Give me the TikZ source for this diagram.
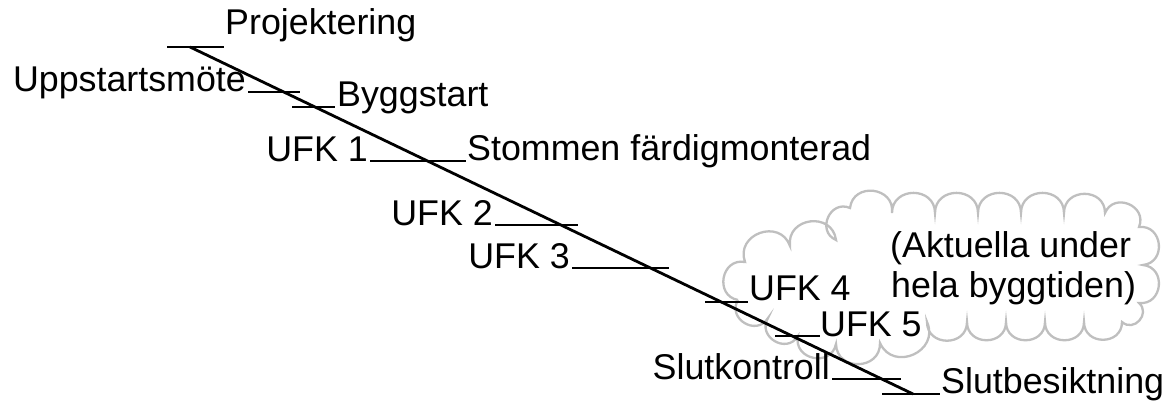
\documentclass[tikz,border=0pt]{standalone}
\usepackage{fontspec}
\setmainfont{Liberation Sans}
\begin{document}
\begin{tikzpicture}[x=1pt,y=-1pt,
  lbl/.style={inner sep=0pt,font=\fontsize{35.8}{40}\selectfont},
  tick/.style={line width=2.8pt,black},
  axisline/.style={line width=2.8pt,black},
  cloudline/.style={line width=2.3pt,black!25},
  bump/.style={bend left=90,looseness=1.6}]
\useasboundingbox (0,0) rectangle (1168,403);
% cloud
\foreach \n/\p in {0/{738,300},1/{745,262},2/{790,246},3/{836,240},4/{850,208},5/{892,213},6/{935,213},7/{978,213},8/{1021,213},9/{1064,213},10/{1105,213},11/{1139,227},12/{1143,265},13/{1139,303},14/{1122,322},15/{1084,322},16/{1045,322},17/{1006,322},18/{967,322},19/{927,322},20/{880,343},21/{836,344},22/{798,336},23/{768,318}}
  \coordinate (c\n) at (\p);
\draw[cloudline] (c0) to[bump] (c1) to[bump] (c2) to[bump] (c3) to[bump] (c4)
  to[bump] (c5) to[bump] (c6) to[bump] (c7) to[bump] (c8) to[bump] (c9)
  to[bump] (c10) to[bump] (c11) to[bump] (c12) to[bump] (c13) to[bump] (c14)
  to[bump] (c15) to[bump] (c16) to[bump] (c17) to[bump] (c18) to[bump] (c19)
  to[bump] (c20) to[bump] (c21) to[bump] (c22) to[bump] (c23) to[bump] (c0);
\node[lbl,anchor=base west] (cl1) at (890,258) {(Aktuella under};
\node[lbl,anchor=base west] (cl2) at (891,298) {hela byggtiden)};
% main diagonal
\coordinate (d0) at (190,47);
\coordinate (d1) at (913,394);
\draw[axisline] (d0) -- (d1);
% ticks
\coordinate (a1) at (167,47);  \coordinate (b1) at (224,47);
\coordinate (a2) at (248,92);  \coordinate (b2) at (300,92);
\coordinate (a3) at (292,107); \coordinate (b3) at (335,107);
\coordinate (a4) at (370,161); \coordinate (b4) at (466,161);
\coordinate (a5) at (495,225); \coordinate (b5) at (578,225);
\coordinate (a6) at (572,268); \coordinate (b6) at (669,268);
\coordinate (a7) at (705,302); \coordinate (b7) at (748,302);
\coordinate (a8) at (775,336); \coordinate (b8) at (820,336);
\coordinate (a9) at (832,379); \coordinate (b9) at (901,379);
\coordinate (a10) at (882,394); \coordinate (b10) at (940,394);
\foreach \i in {1,...,10} \draw[tick] (a\i) -- (b\i);
% labels
\node[lbl,anchor=base west] (proj) at (225,35) {Projektering};
\node[lbl,anchor=base east] (upp) at (246,92) {Uppstartsmöte};
\node[lbl,anchor=base west] (bygg) at (337,107) {Byggstart};
\node[lbl,anchor=base east] (ufk1) at (368,162) {UFK 1};
\node[lbl,anchor=base west] (stom) at (467,161) {Stommen färdigmonterad};
\node[lbl,anchor=base east] (ufk2) at (493,226) {UFK 2};
\node[lbl,anchor=base east] (ufk3) at (570,269) {UFK 3};
\node[lbl,anchor=base west] (ufk4) at (749,301) {UFK 4};
\node[lbl,anchor=base west] (ufk5) at (820,337) {UFK 5};
\node[lbl,anchor=base east] (slutk) at (830,380) {Slutkontroll};
\node[lbl,anchor=base west] (slutb) at (941,393) {Slutbesiktning};
\end{tikzpicture}
\end{document}
